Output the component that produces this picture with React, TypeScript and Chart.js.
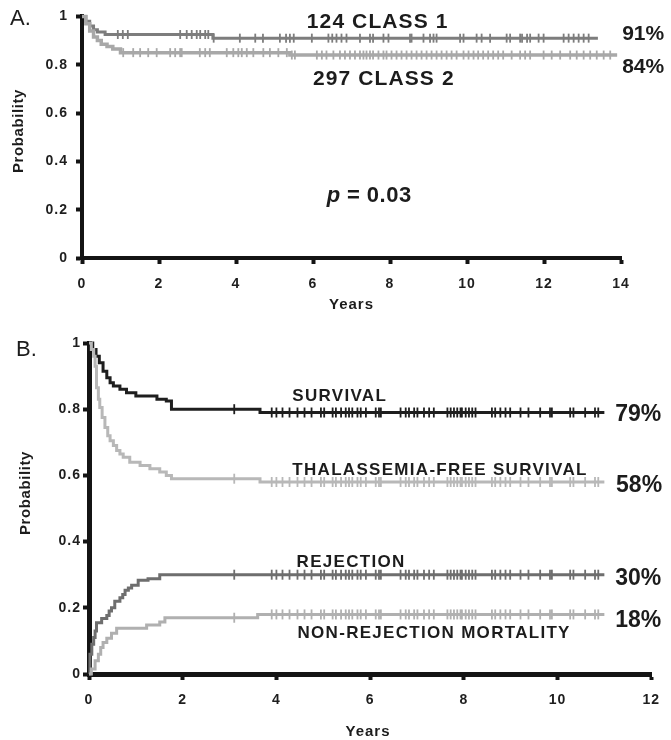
import React, { useEffect, useRef } from "react";
import { Chart, registerables } from "chart.js";

Chart.register(...registerables);

const FONT = '"Liberation Sans", Arial, Helvetica, sans-serif';
const AXIS = "#141414";
const INK = "#1c1c1c";

// ---- Panel A: survival by risk class ----
const xTicksA = [0, 2, 4, 6, 8, 10, 12, 14];
const yTicks = [0, 0.2, 0.4, 0.6, 0.8, 1];

const class1Times = [0, 0.1, 0.2, 0.3, 0.4, 0.6, 3.4, 13.4];
const class1Surv = [1, 0.98, 0.96, 0.945, 0.935, 0.925, 0.91, 0.91];
const class1Censor = [
  0.93, 1.06, 1.19, 2.55, 2.72, 2.85, 2.98, 3.07, 3.2, 3.28, 3.42, 4.1, 4.5, 4.7,
  5.14, 5.3, 5.4, 5.5, 5.97, 6.4, 6.5, 6.61, 6.74, 6.87, 7.22, 7.48, 7.56, 7.83,
  7.96, 8.52, 8.56, 8.87, 9.04, 9.13, 9.21, 9.82, 9.91, 10.25, 10.38, 10.6, 11.03,
  11.12, 11.38, 11.43, 11.56, 11.64, 11.86, 11.99, 12.51, 12.64, 12.77, 12.9,
  13.03, 13.16,
];

const class2Times = [0, 0.1, 0.2, 0.3, 0.4, 0.5, 0.65, 0.8, 1.0, 5.4, 13.9];
const class2Surv = [1, 0.97, 0.94, 0.915, 0.9, 0.885, 0.875, 0.865, 0.85, 0.84, 0.84];
const class2Censor = [
  1.07, 1.33, 1.51, 1.72, 1.94, 2.29, 2.42, 2.55, 2.59, 3.06, 3.2, 3.32, 3.76, 3.93,
  4.06, 4.15, 4.28, 4.45, 4.71, 4.88, 5.1, 5.32, 5.45, 5.53, 6.1, 6.23, 6.35, 6.53,
  6.7, 6.83, 6.96, 7.09, 7.22, 7.31, 7.39, 7.48, 7.56, 7.7, 7.83, 7.91, 8.04, 8.17,
  8.3, 8.43, 8.56, 8.69, 8.82, 8.95, 9.08, 9.21, 9.34, 9.47, 9.6, 9.73, 9.91, 10.04,
  10.17, 10.29, 10.42, 10.55, 10.68, 10.81, 10.94, 11.16, 11.38, 11.51, 11.64,
  11.99, 12.2, 12.42, 12.68, 12.85, 13.03, 13.2, 13.37, 13.55, 13.72,
];

// ---- Panel B: outcomes after transplant ----
const xTicksB = [0, 2, 4, 6, 8, 10, 12];

const survTimes = [0, 0.08, 0.15, 0.22, 0.3, 0.38, 0.45, 0.52, 0.66, 0.8, 1.0, 1.45, 1.65, 1.76, 3.65, 11.0];
const survVals = [1, 0.98, 0.96, 0.94, 0.915, 0.895, 0.88, 0.87, 0.86, 0.85, 0.84, 0.83, 0.825, 0.8, 0.79, 0.79];

const tfsTimes = [0, 0.05, 0.1, 0.13, 0.16, 0.2, 0.23, 0.28, 0.34, 0.4, 0.45, 0.52, 0.59, 0.66, 0.73, 0.87, 1.09, 1.3, 1.51, 1.65, 1.76, 3.65, 11.0];
const tfsVals = [1, 0.98, 0.96, 0.93, 0.865, 0.83, 0.805, 0.775, 0.745, 0.72, 0.705, 0.69, 0.675, 0.665, 0.655, 0.64, 0.63, 0.62, 0.61, 0.6, 0.59, 0.58, 0.58];

const rejTimes = [0, 0.02, 0.06, 0.1, 0.13, 0.16, 0.27, 0.38, 0.43, 0.48, 0.55, 0.66, 0.72, 0.77, 0.84, 0.91, 1.05, 1.26, 1.51, 11.0];
const rejVals = [0, 0.06, 0.09, 0.11, 0.13, 0.155, 0.168, 0.177, 0.19, 0.2, 0.22, 0.23, 0.24, 0.253, 0.26, 0.268, 0.283, 0.288, 0.3, 0.3];

const nrmTimes = [0, 0.05, 0.13, 0.2, 0.25, 0.3, 0.38, 0.48, 0.59, 1.23, 1.51, 1.62, 3.6, 11.0];
const nrmVals = [0, 0.015, 0.04, 0.06, 0.08, 0.095, 0.108, 0.123, 0.138, 0.148, 0.157, 0.17, 0.18, 0.18];

const censorB = [
  3.1, 3.9, 4.0, 4.13, 4.28, 4.45, 4.6, 4.75, 4.95, 5.02, 5.2, 5.27, 5.38, 5.48,
  5.55, 5.62, 5.73, 5.8, 5.91, 6.12, 6.19, 6.23, 6.65, 6.76, 6.83, 6.94, 7.01, 7.15,
  7.26, 7.36, 7.65, 7.72, 7.79, 7.86, 7.93, 7.96, 8.04, 8.11, 8.18, 8.25, 8.6, 8.67,
  8.78, 8.89, 8.99, 9.21, 9.38, 9.63, 9.84, 9.88, 10.27, 10.34, 10.59, 10.8, 10.87,
];

// value of a step function at time t
function stepAt(times: number[], vals: number[], t: number) {
  let v = vals[0];
  for (let i = 0; i < times.length; i++) {
    if (times[i] <= t) v = vals[i];
    else break;
  }
  return v;
}

function curve(times: number[], vals: number[], color: string, width: number) {
  return {
    type: "line" as const,
    data: times.map((t, i) => ({ x: t, y: vals[i] })),
    stepped: true,
    borderColor: color,
    borderWidth: width,
    pointRadius: 0,
    fill: false,
    clip: false as const,
  };
}

function censorMarks(times: number[], vals: number[], marks: number[], color: string, r: number) {
  return {
    type: "line" as const,
    data: marks.map((t) => ({ x: t, y: stepAt(times, vals, t) })),
    showLine: false,
    pointStyle: "line" as const,
    pointRotation: 90,
    pointRadius: r,
    pointBorderWidth: 1.8,
    pointBorderColor: color,
    borderColor: color,
    clip: false as const,
  };
}

function drawText(
  ctx: CanvasRenderingContext2D,
  s: string,
  x: number,
  y: number,
  font: string,
  align: CanvasTextAlign = "left",
  spacing = 0,
  color = INK
) {
  ctx.save();
  ctx.font = font;
  ctx.fillStyle = color;
  ctx.textAlign = align;
  ctx.textBaseline = "middle";
  (ctx as any).letterSpacing = spacing + "px";
  ctx.fillText(s, x, y);
  ctx.restore();
}

function drawRotated(ctx: CanvasRenderingContext2D, s: string, x: number, y: number, font: string) {
  ctx.save();
  ctx.translate(x, y);
  ctx.rotate(-Math.PI / 2);
  drawText(ctx, s, 0, 0, font, "center", 0.6);
  ctx.restore();
}

// slightly widened tick lettering
const tickSpacing = {
  id: "tickSpacing",
  beforeDraw(chart: any) {
    (chart.ctx as any).letterSpacing = "1px";
  },
};

function axes(
  xTicks: number[],
  xMax: number,
  xHeight: number,
  yWidth: number,
  borderW: number,
  yPad: number,
  xPad: number
) {
  const tickFont = { family: FONT, size: 14, weight: "bold" as const };
  return {
    x: {
      type: "linear" as const,
      min: 0,
      max: xMax,
      afterBuildTicks: (s: any) => {
        s.ticks = xTicks.map((value) => ({ value }));
      },
      afterFit: (s: any) => {
        s.height = xHeight;
      },
      border: { display: true, color: AXIS, width: borderW },
      grid: { drawOnChartArea: false, drawTicks: true, tickLength: 6, tickWidth: 4, tickColor: AXIS, color: AXIS },
      ticks: { font: tickFont, color: "#1e1e1e", padding: xPad, maxRotation: 0, callback: (v: number) => String(v) },
    },
    y: {
      type: "linear" as const,
      min: 0,
      max: 1,
      afterBuildTicks: (s: any) => {
        s.ticks = yTicks.map((value) => ({ value }));
      },
      afterFit: (s: any) => {
        s.width = yWidth;
      },
      border: { display: true, color: AXIS, width: borderW },
      grid: { drawOnChartArea: false, drawTicks: true, tickLength: 6, tickWidth: 4, tickColor: AXIS, color: AXIS },
      ticks: { font: tickFont, color: "#1e1e1e", padding: yPad, callback: (v: number) => String(v) },
    },
  };
}

const labelsA = {
  id: "labelsA",
  afterDraw(chart: any) {
    const { ctx } = chart;
    const x = chart.scales.x;
    const y = chart.scales.y;
    const px = (t: number) => x.getPixelForValue(t);
    const py = (p: number) => y.getPixelForValue(p);
    const bold = (n: number) => `bold ${n}px ${FONT}`;
    drawText(ctx, "A.", 10, 19, `22px ${FONT}`);
    drawRotated(ctx, "Probability", 19, 131, bold(15));
    drawText(ctx, "Years", (chart.chartArea.left + chart.chartArea.right) / 2, 305, bold(15), "center", 1);
    drawText(ctx, "124 CLASS 1", px(5.84), py(0.975), bold(21), "left", 1.1);
    drawText(ctx, "297 CLASS 2", px(6.0), py(0.742), bold(21), "left", 1.1);
    drawText(ctx, "91%", px(14.03), py(0.926), bold(21));
    drawText(ctx, "84%", px(14.03), py(0.791), bold(21));
    // p-value with italic p
    const x0 = px(6.36);
    const y0 = py(0.258);
    ctx.save();
    ctx.font = `italic bold 22px ${FONT}`;
    (ctx as any).letterSpacing = "0px";
    const w = ctx.measureText("p").width;
    ctx.restore();
    drawText(ctx, "p", x0, y0, `italic bold 22px ${FONT}`);
    drawText(ctx, " = 0.03", x0 + w, y0, bold(22), "left", 0.5);
  },
};

const labelsB = {
  id: "labelsB",
  afterDraw(chart: any) {
    const { ctx } = chart;
    const x = chart.scales.x;
    const y = chart.scales.y;
    const px = (t: number) => x.getPixelForValue(t);
    const py = (p: number) => y.getPixelForValue(p);
    const bold = (n: number) => `bold ${n}px ${FONT}`;
    drawText(ctx, "B.", 16, 30, `22px ${FONT}`);
    drawRotated(ctx, "Probability", 26, 173, bold(15));
    drawText(ctx, "Years", 368, 412, bold(15), "center", 1);
    drawText(ctx, "SURVIVAL", px(4.34), py(0.839), bold(17), "left", 1.3);
    drawText(ctx, "THALASSEMIA-FREE SURVIVAL", px(4.34), py(0.614), bold(17), "left", 1.3);
    drawText(ctx, "REJECTION", px(4.43), py(0.337), bold(17), "left", 1.3);
    drawText(ctx, "NON-REJECTION MORTALITY", px(4.45), py(0.123), bold(17), "left", 1.3);
    drawText(ctx, "79%", px(11.23), py(0.785), bold(23));
    drawText(ctx, "58%", px(11.25), py(0.568), bold(23));
    drawText(ctx, "30%", px(11.23), py(0.289), bold(23));
    drawText(ctx, "18%", px(11.23), py(0.162), bold(23));
  },
};

const C1 = "#7d7d7d";
const C2 = "#a8a8a8";
const SURV = "#1e1e1e";
const TFS = "#b8b8b8";
const REJ = "#6e6e6e";
const NRM = "#b0b0b0";

function configA(): any {
  return {
    type: "line",
    data: {
      datasets: [
        curve(class2Times, class2Surv, C2, 3.5),
        censorMarks(class2Times, class2Surv, class2Censor, C2, 4.5),
        curve(class1Times, class1Surv, C1, 3),
        censorMarks(class1Times, class1Surv, class1Censor, C1, 4.5),
      ],
    },
    options: {
      responsive: false,
      animation: false,
      events: [],
      layout: { padding: { left: 0, right: 50, top: 14, bottom: 0 } },
      plugins: { legend: { display: false }, tooltip: { enabled: false } },
      scales: axes(xTicksA, 14, 62, 82, 4, 8, 12),
    },
    plugins: [tickSpacing, labelsA],
  };
}

function configB(): any {
  return {
    type: "line",
    data: {
      datasets: [
        curve(tfsTimes, tfsVals, TFS, 3),
        censorMarks(tfsTimes, tfsVals, censorB, TFS, 5),
        curve(nrmTimes, nrmVals, NRM, 3),
        censorMarks(nrmTimes, nrmVals, censorB, NRM, 5),
        curve(rejTimes, rejVals, REJ, 3),
        censorMarks(rejTimes, rejVals, censorB, REJ, 5),
        curve(survTimes, survVals, SURV, 3),
        censorMarks(survTimes, survVals, censorB, SURV, 5),
      ],
    },
    options: {
      responsive: false,
      animation: false,
      events: [],
      layout: { padding: { left: 0, right: 19, top: 23, bottom: 0 } },
      plugins: { legend: { display: false }, tooltip: { enabled: false } },
      scales: axes(xTicksB, 12, 66, 89, 5, 2, 12),
    },
    plugins: [tickSpacing, labelsB],
  };
}

export default function App() {
  const refA = useRef<HTMLCanvasElement>(null);
  const refB = useRef<HTMLCanvasElement>(null);

  useEffect(() => {
    const a = new Chart(refA.current!, configA());
    const b = new Chart(refB.current!, configB());
    return () => {
      a.destroy();
      b.destroy();
    };
  }, []);

  return (
    <div style={{ position: "absolute", left: 0, top: 0, width: 671, height: 740, background: "#fff" }}>
      <canvas
        ref={refA}
        width={671}
        height={320}
        style={{ position: "absolute", left: 0, top: 0, width: 671, height: 320 }}
      />
      <canvas
        ref={refB}
        width={671}
        height={420}
        style={{ position: "absolute", left: 0, top: 320, width: 671, height: 420 }}
      />
    </div>
  );
}
